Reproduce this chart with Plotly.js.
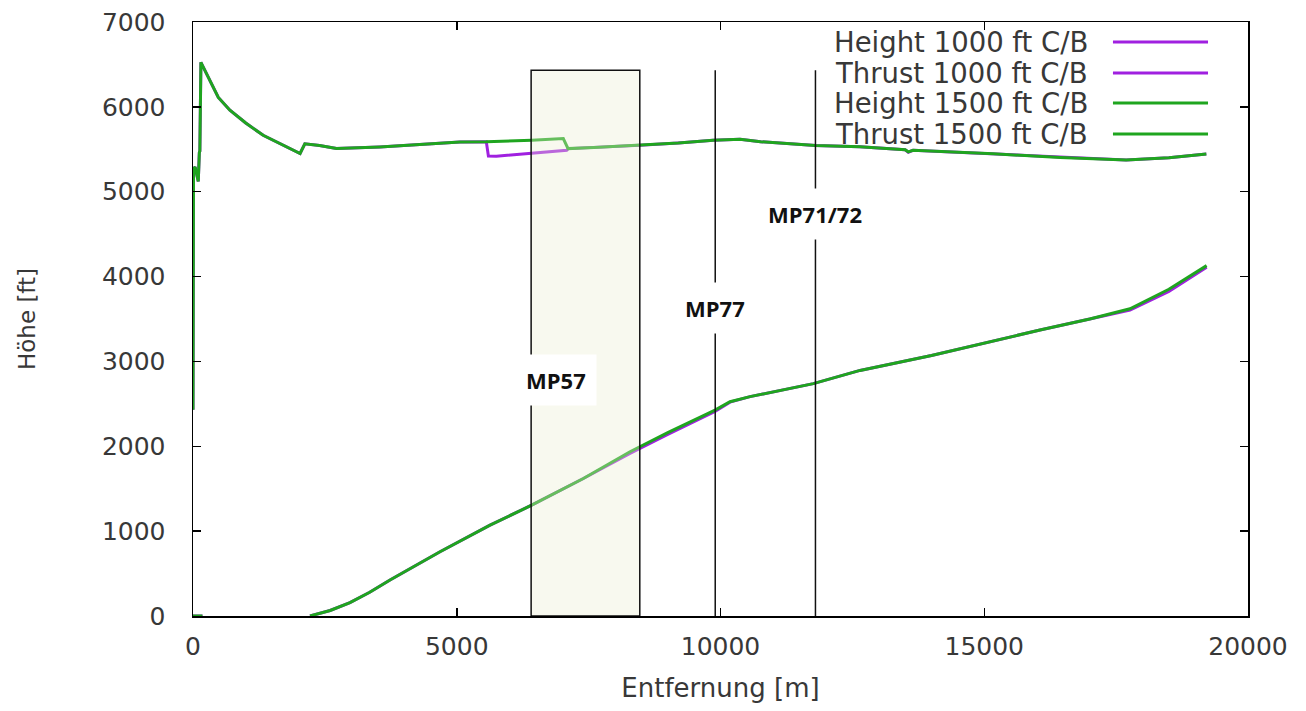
<!DOCTYPE html>
<html>
<head>
<meta charset="utf-8">
<script src="https://cdn.plot.ly/plotly-3.0.1.min.js"></script>
<style>html,body{margin:0;padding:0;background:#fff;}#chart{width:1306px;height:711px;}</style>
</head>
<body>
<div id="chart"></div>
<script>
// ---- data ----
const seriesNames = ["Height 1000 ft C/B", "Thrust 1000 ft C/B", "Height 1500 ft C/B", "Thrust 1500 ft C/B"];

const thrust1500X = [0, 10, 40, 100, 120, 130, 150, 300, 480, 700, 1000, 1330, 1700, 2030, 2120, 2400, 2720, 3540, 4300, 5060, 5560, 6000, 6420, 7020, 7110, 7600, 8470, 9200, 9860, 10370, 10760, 11800, 12640, 13500, 13560, 13650, 14300, 15170, 16440, 17000, 17690, 18500, 19210];
const thrust1500Y = [2430, 5270, 5290, 5120, 5460, 5480, 6525, 6330, 6110, 5960, 5810, 5665, 5550, 5450, 5565, 5545, 5510, 5528, 5555, 5587, 5590, 5598, 5607, 5626, 5508, 5520, 5548, 5575, 5607, 5618, 5590, 5545, 5529, 5495, 5470, 5488, 5470, 5447, 5404, 5390, 5373, 5400, 5444];

const thrust1000X = [0, 10, 40, 100, 120, 130, 150, 300, 480, 700, 1000, 1330, 1700, 2030, 2120, 2400, 2720, 3540, 4300, 5060, 5560, 5600, 5750, 6400, 7084, 7115, 7600, 8470, 9200, 9860, 10370, 10760, 11800, 12640, 13500, 13560, 13650, 14300, 15170, 16440, 17000, 17690, 18500, 19210];
const thrust1000Y = [2430, 5270, 5290, 5120, 5460, 5480, 6525, 6330, 6110, 5960, 5810, 5665, 5550, 5450, 5565, 5545, 5510, 5528, 5555, 5587, 5590, 5420, 5418, 5450, 5489, 5508, 5520, 5548, 5575, 5607, 5618, 5590, 5545, 5529, 5495, 5465, 5488, 5470, 5447, 5404, 5390, 5373, 5400, 5444];

const height1500X = [0, 180, null, 2218, 2600, 2976, 3350, 3735, 4683, 5631, 6420, 7400, 8284, 9000, 9896, 10180, 10560, 11760, 12645, 14000, 15300, 16057, 17000, 17763, 18500, 19216];
const height1500Y = [0, 0, null, 0, 65, 157, 280, 424, 757, 1071, 1306, 1620, 1936, 2160, 2427, 2525, 2585, 2738, 2894, 3070, 3265, 3370, 3500, 3620, 3850, 4129];

const height1000X = [0, 180, null, 2218, 2600, 2976, 3350, 3735, 4683, 5631, 6420, 7400, 8284, 9000, 9896, 10180, 10560, 11760, 12645, 14000, 15300, 16057, 17000, 17763, 18500, 19216];
const height1000Y = [0, 0, null, 0, 65, 157, 280, 424, 757, 1071, 1306, 1620, 1915, 2140, 2410, 2520, 2585, 2738, 2894, 3070, 3265, 3370, 3500, 3605, 3825, 4110];

// marker lines / region
const regionMP57 = [6410, 8470];
const lineMP77 = 9900;
const lineMP7172 = 11800;
const markerTop = 6430;
const markerLabels = ["MP57", "MP77", "MP71/72"];
const labelPos = { MP57: [6880, 2780], MP77: [9900, 3630], "MP71/72": [11790, 4740] };

const xTicks = [0, 5000, 10000, 15000, 20000];
const yTicks = [0, 1000, 2000, 3000, 4000, 5000, 6000, 7000];

// ---- styles ----
const PURPLE = "#a020e0";
const GREEN = "#1fa51f";
const FONT = "DejaVu Sans, sans-serif";
const TXT = "#383838";

const traces = [
  { x: height1000X, y: height1000Y, color: PURPLE, name: seriesNames[0] },
  { x: thrust1000X, y: thrust1000Y, color: PURPLE, name: seriesNames[1] },
  { x: height1500X, y: height1500Y, color: GREEN, name: seriesNames[2] },
  { x: thrust1500X, y: thrust1500Y, color: GREEN, name: seriesNames[3] }
].map(s => ({
  type: "scatter", mode: "lines", x: s.x, y: s.y, name: s.name,
  line: { color: s.color, width: 3 }, connectgaps: false, showlegend: false
}));

const shapes = [
  { type: "rect", xref: "x", yref: "y", x0: regionMP57[0], x1: regionMP57[1], y0: 0, y1: markerTop,
    fillcolor: "rgb(235,238,209)", opacity: 0.35, line: { width: 0 }, layer: "above" },
  { type: "rect", xref: "x", yref: "y", x0: regionMP57[0], x1: regionMP57[1], y0: 0, y1: markerTop,
    fillcolor: "rgba(0,0,0,0)", line: { color: "#111", width: 1.5 }, layer: "above" },
  { type: "line", xref: "x", yref: "y", x0: lineMP77, x1: lineMP77, y0: 0, y1: markerTop,
    line: { color: "#111", width: 1.5 }, layer: "above" },
  { type: "line", xref: "x", yref: "y", x0: lineMP7172, x1: lineMP7172, y0: 0, y1: markerTop,
    line: { color: "#111", width: 1.5 }, layer: "above" }
];

const annotations = [];
markerLabels.forEach(lbl => {
  annotations.push({
    xref: "x", yref: "y", x: labelPos[lbl][0], y: labelPos[lbl][1], text: "<b>" + lbl + "</b>",
    showarrow: false, bgcolor: "#ffffff", borderpad: 10,
    font: { family: "Open Sans, sans-serif", size: 22, color: "#111" }
  });
});

// legend drawn gnuplot-style: right-aligned text, line sample to the right
const legendRowsY = [0.9663, 0.9141, 0.8636, 0.8114];
const legendColors = [PURPLE, PURPLE, GREEN, GREEN];
seriesNames.forEach((nm, i) => {
  annotations.push({
    xref: "paper", yref: "paper", x: 0.8502, y: legendRowsY[i], xanchor: "right", yanchor: "middle",
    text: nm, showarrow: false, font: { family: FONT, size: 27.5, color: TXT }
  });
  shapes.push({
    type: "line", xref: "paper", yref: "paper", x0: 0.872, x1: 0.9621, y0: legendRowsY[i], y1: legendRowsY[i],
    line: { color: legendColors[i], width: 3 }
  });
});

const axisCommon = {
  showline: true, linecolor: "#000", linewidth: 1.5, mirror: "ticks",
  ticks: "inside", ticklen: 8, tickwidth: 1.5, tickcolor: "#000",
  showgrid: false, zeroline: false,
  tickfont: { family: FONT, size: 25, color: TXT }
};

const layout = {
  width: 1306, height: 711,
  margin: { l: 193, r: 58, t: 22, b: 95 },
  paper_bgcolor: "#fff", plot_bgcolor: "#fff",
  showlegend: false,
  xaxis: Object.assign({}, axisCommon, {
    range: [0, 20000], tickvals: xTicks, ticktext: xTicks.map(String), ticklabelstandoff: 7,
    title: { text: "Entfernung [m]", font: { family: FONT, size: 26, color: TXT }, standoff: 19 }
  }),
  yaxis: Object.assign({}, axisCommon, {
    range: [0, 7000], tickvals: yTicks, ticktext: yTicks.map(String), ticklabelstandoff: 21,
    title: { text: "Höhe [ft]", font: { family: FONT, size: 23, color: TXT }, standoff: 60 }
  }),
  shapes: shapes,
  annotations: annotations
};

Plotly.newPlot("chart", traces, layout, { staticPlot: true, displayModeBar: false });
</script>
</body>
</html>
